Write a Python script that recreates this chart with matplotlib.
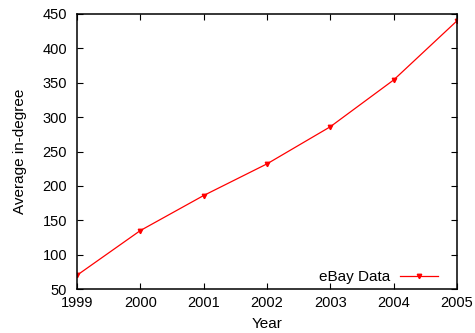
import matplotlib
matplotlib.use("Agg")
import matplotlib.pyplot as plt

plt.rcParams['font.family'] = ['Liberation Sans', 'DejaVu Sans']
plt.rcParams['font.size'] = 10.5

years = [1999, 2000, 2001, 2002, 2003, 2004, 2005]
avg_indegree = [70, 135, 186, 232, 286, 354, 440]

fig = plt.figure(figsize=(4.75, 3.33), dpi=100)
ax = fig.add_axes([0.162, 0.132, 0.8, 0.826])

ax.plot(years, avg_indegree, color='red', lw=0.9, marker='v', markersize=3.2,
        label='eBay Data')

ax.set_xlim(1999, 2005)
ax.set_ylim(50, 450)
ax.set_xticks(years)
ax.set_yticks(range(50, 451, 50))
ax.tick_params(axis='y', direction='in', right=True, length=4, width=0.8, pad=7)
ax.tick_params(axis='x', direction='in', top=True, length=4, width=0.8, pad=5)
for s in ax.spines.values():
    s.set_linewidth(1.1)

ax.set_xlabel('Year', labelpad=5, fontsize=11)
ax.set_ylabel('Average in-degree', labelpad=11, fontsize=11)

ax.legend(loc='lower right', bbox_to_anchor=(0.966, -0.005), frameon=False,
          markerfirst=False, handlelength=2.5, borderaxespad=0,
          handletextpad=0.6, fontsize=11)

fig.savefig('out.png', dpi=100)
